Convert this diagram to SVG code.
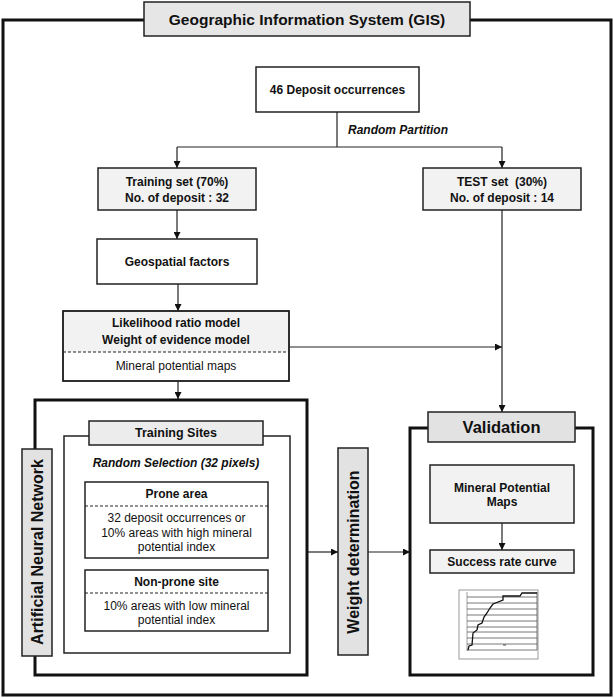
<svg xmlns="http://www.w3.org/2000/svg" width="614" height="698" viewBox="0 0 614 698">
<defs>
<marker id="arr" viewBox="0 0 10 10" refX="10" refY="5" markerWidth="7" markerHeight="7" markerUnits="userSpaceOnUse" orient="auto">
<path d="M0,0 L10,5 L0,10 z" fill="#111"/>
</marker>
<style>
text{font-family:"Liberation Sans",Arial,sans-serif;fill:#111;text-anchor:middle;dominant-baseline:central}
.b{font-weight:bold;font-size:12px}
.r{font-size:12px}
.bi{font-weight:bold;font-style:italic;font-size:12px}
.big{font-weight:bold;font-size:16px}
.thick{fill:none;stroke:#111;stroke-width:3}
.box{stroke:#222;stroke-width:1.5}
.w{fill:#fff}
.lg{fill:#f2f2f2}
.g{fill:#e2e2e2}
.dash{stroke:#222;stroke-width:1;stroke-dasharray:3,2}
.conn{fill:none;stroke:#222;stroke-width:1.2}
</style>
</defs>
<rect width="614" height="698" fill="#fff"/>

<g id="frame">
<rect class="thick" x="3" y="20" width="608" height="675"/>
</g>
<g id="title">
<rect class="box" x="144" y="2" width="326" height="34" fill="#e6e6e6" stroke-width="2"/>
<text class="big" x="307" y="19" style="font-size:15.5px">Geographic Information System (GIS)</text>
</g>

<g id="connectors">
<path class="conn" d="M337,112 V147"/>
<path class="conn" d="M177,147 H502"/>
<path class="conn" d="M177,147 V168" marker-end="url(#arr)"/>
<path class="conn" d="M502,147 V168" marker-end="url(#arr)"/>
<path class="conn" d="M177,210 V239" marker-end="url(#arr)"/>
<path class="conn" d="M178,284 V311" marker-end="url(#arr)"/>
<path class="conn" d="M289,347 H502" marker-end="url(#arr)"/>
<path class="conn" d="M502,210 V412" marker-end="url(#arr)"/>
<path class="conn" d="M178,381 V399" marker-end="url(#arr)"/>
<path class="conn" d="M307,552 H338" marker-end="url(#arr)"/>
<path class="conn" d="M368,552 H410" marker-end="url(#arr)"/>
<path class="conn" d="M502,523 V550" marker-end="url(#arr)"/>
</g>

<g id="deposit">
<rect class="box w" x="256" y="67" width="163" height="45" stroke-width="2"/>
<text class="b" x="337.5" y="90">46 Deposit occurrences</text>
</g>
<g id="partition-label">
<text class="bi" x="398" y="130">Random Partition</text>
</g>

<g id="training-set">
<rect class="box lg" x="98" y="168" width="158" height="42"/>
<text class="b" x="177" y="182">Training set (70%)</text>
<text class="b" x="177" y="198">No. of deposit : 32</text>
</g>
<g id="test-set">
<rect class="box lg" x="423" y="168" width="158" height="42"/>
<text class="b" x="502" y="182" xml:space="preserve">TEST set  (30%)</text>
<text class="b" x="502" y="198">No. of deposit : 14</text>
</g>

<g id="geospatial">
<rect class="box w" x="97" y="239" width="160" height="45" stroke-width="2"/>
<text class="b" x="177" y="262">Geospatial factors</text>
</g>

<g id="likelihood">
<rect class="box lg" x="63" y="311" width="226" height="70"/>
<rect class="w" x="64" y="352" width="224" height="28"/>
<line class="dash" x1="63" y1="352" x2="289" y2="352"/>
<rect class="box" x="63" y="311" width="226" height="70" fill="none"/>
<text class="b" x="176" y="323">Likelihood ratio model</text>
<text class="b" x="176" y="340">Weight of evidence model</text>
<text class="r" x="176" y="366">Mineral potential maps</text>
</g>

<g id="ann">
<rect class="thick" x="35" y="400" width="272" height="275" fill="#fff"/>
<rect class="box g" x="22" y="449" width="30" height="207"/>
<text class="big" transform="translate(37,552) rotate(-90)">Artificial Neural Network</text>
</g>

<g id="training-sites">
<rect class="box w" x="64" y="436" width="226" height="217"/>
<rect class="box" x="89" y="421" width="174" height="24" fill="#ececec"/>
<text class="b" x="176" y="433" style="font-size:12.5px">Training Sites</text>
<text class="bi" x="176" y="463">Random Selection (32 pixels)</text>
</g>

<g id="prone">
<rect class="box w" x="85" y="482" width="183" height="76"/>
<line class="dash" x1="85" y1="506" x2="268" y2="506"/>
<text class="b" x="176.5" y="494">Prone area</text>
<text class="r" x="176.5" y="518">32 deposit occurrences or</text>
<text class="r" x="176.5" y="533">10% areas with high mineral</text>
<text class="r" x="176.5" y="547">potential index</text>
</g>

<g id="nonprone">
<rect class="box w" x="85" y="570" width="183" height="61"/>
<line class="dash" x1="85" y1="593" x2="268" y2="593"/>
<text class="b" x="176.5" y="582">Non-prone site</text>
<text class="r" x="176.5" y="606">10% areas with low mineral</text>
<text class="r" x="176.5" y="620">potential index</text>
</g>

<g id="weight">
<rect class="box g" x="338" y="448" width="30" height="207"/>
<text class="big" transform="translate(353,552) rotate(-90)">Weight determination</text>
</g>

<g id="validation">
<rect class="thick" x="410" y="428" width="183" height="247" fill="#fff"/>
<rect class="box g" x="428" y="412" width="147" height="30"/>
<text class="big" x="501.5" y="427" style="font-size:16.5px">Validation</text>
</g>

<g id="mpm">
<rect class="box lg" x="430" y="465" width="144" height="58"/>
<text class="b" x="502" y="488">Mineral Potential</text>
<text class="b" x="502" y="502">Maps</text>
</g>

<g id="src">
<rect class="box lg" x="430" y="550" width="144" height="23"/>
<text class="b" x="502" y="562">Success rate curve</text>
</g>

<g id="chart">
<rect x="459" y="590" width="79" height="69" fill="#fff" stroke="#999" stroke-width="1"/>
<line x1="467" y1="592" x2="467" y2="651" stroke="#888" stroke-width="0.8"/>
<g stroke="#555" stroke-width="0.8">
<line x1="467" y1="597" x2="537" y2="597"/>
<line x1="467" y1="603" x2="537" y2="603"/>
<line x1="467" y1="609" x2="537" y2="609"/>
<line x1="467" y1="615" x2="537" y2="615"/>
<line x1="467" y1="621" x2="537" y2="621"/>
<line x1="467" y1="627" x2="537" y2="627"/>
<line x1="467" y1="632" x2="537" y2="632"/>
<line x1="467" y1="638" x2="537" y2="638"/>
<line x1="467" y1="644" x2="537" y2="644"/>
<line x1="467" y1="650" x2="537" y2="650"/>
<line x1="537" y1="592" x2="537" y2="650"/>
</g>
<polyline fill="none" stroke="#111" stroke-width="1.3" points="468,650 469,646 472,645 473,633 477,630 478,625 482,623 484,617 487,613 490,608 493,604 503,600 503,596 520,596 522,593 537,593"/>
<line x1="503" y1="645" x2="506" y2="645" stroke="#444" stroke-width="1"/>
</g>
</svg>
